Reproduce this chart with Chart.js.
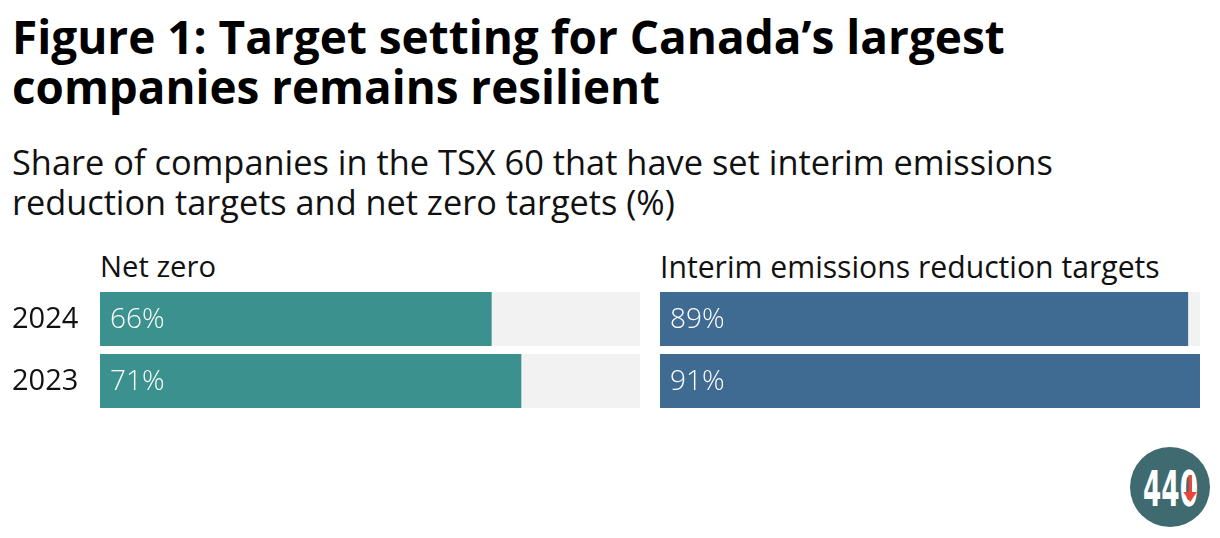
<!DOCTYPE html>
<html>
<head>
<meta charset="utf-8">
<script src="https://cdn.jsdelivr.net/npm/chart.js"></script>
<style>
  html, body { margin: 0; padding: 0; background: #fff; }
  body { width: 1220px; height: 538px; position: relative; overflow: hidden; font-family: "Open Sans", "Noto Sans", sans-serif; color: #111; }
  .fit { position: absolute; left: 12px; white-space: nowrap; margin: 0; }
  #title1, #title2 { font-weight: 700; font-size: 42px; line-height: 1; color: #000; }
  #sub1, #sub2 { font-weight: 400; font-size: 29px; line-height: 1; }
  .head { position: absolute; white-space: nowrap; font-size: 24px; line-height: 1; }
  canvas { position: absolute; }
  #logo { position: absolute; left: 1130px; top: 447px; }
</style>
</head>
<body>
<div class="fit" id="title1" data-w="993" style="top:14px">Figure 1: Target setting for Canada’s largest</div>
<div class="fit" id="title2" data-w="648" style="top:64px">companies remains resilient</div>
<div class="fit" id="sub1" data-w="1041" style="top:145px">Share of companies in the TSX 60 that have set interim emissions</div>
<div class="fit" id="sub2" data-w="663" style="top:185px">reduction targets and net zero targets (%)</div>
<div class="head" id="head1" data-w="116" style="left:100px; top:252px">Net zero</div>
<div class="head" id="head2" data-w="500" style="left:660px; top:252px">Interim emissions reduction targets</div>

<canvas id="leftChart" width="640" height="124" style="left:0; top:288px"></canvas>
<canvas id="rightChart" width="540" height="124" style="left:660px; top:288px"></canvas>

<svg id="logo" width="80" height="80" viewBox="0 0 80 80">
  <circle cx="40" cy="40" r="40" fill="#3e6a70"/>
  <text x="13" y="59" fill="#fff" font-family="Liberation Sans Narrow, DejaVu Sans Condensed, sans-serif" font-weight="700" font-size="50" textLength="55" lengthAdjust="spacingAndGlyphs">440</text>
  <rect x="58.5" y="28" width="3.4" height="22" fill="#e8453c"/>
  <polygon points="53.3,45 66.8,45 60.2,55" fill="#e8453c"/>
</svg>

<script>
'use strict';

// --- Data ---
const years = ['2024', '2023'];
const netZero = [66, 71];
const interimTargets = [89, 91];
const axisMax = 91;

// --- Colours ---
const netZeroColor = '#3b918d';
const interimColor = '#3f6a91';
const trackColor = '#f2f2f2';

// stretch text lines to the widths seen in the reference
function fitText() {
    document.querySelectorAll('[data-w]').forEach(el => {
        const target = parseFloat(el.dataset.w);
        const size = parseFloat(getComputedStyle(el).fontSize);
        const w = el.getBoundingClientRect().width;
        if (w > 0) el.style.fontSize = (size * target / w).toFixed(2) + 'px';
    });
}

// value labels inside the bars + year labels on the left panel
const barLabels = {
    id: 'barLabels',
    afterDatasetsDraw(chart, args, opts) {
        const ctx = chart.ctx;
        const meta = chart.getDatasetMeta(0);
        const values = chart.data.datasets[0].data;
        ctx.save();
        ctx.textAlign = 'left';
        ctx.textBaseline = 'middle';
        meta.data.forEach((bar, i) => {
            ctx.font = '300 28px "Open Sans", sans-serif';
            ctx.fillStyle = '#ffffff';
            ctx.fillText(values[i] + '%', bar.base + 10, bar.y + 1);
            if (opts.showYears) {
                // year sits at the left edge of the canvas, on the bar's centre line
                const y = chart.scales.y.getPixelForValue(i);
                ctx.font = '400 29px "Open Sans", sans-serif';
                ctx.fillStyle = '#111111';
                ctx.fillText(chart.data.labels[i], 12, y + 1);
            }
        });
        ctx.restore();
    }
};

function makeChart(canvasId, values, color, showYears) {
    const ctx = document.getElementById(canvasId).getContext('2d');
    return new Chart(ctx, {
        type: 'bar',
        data: {
            labels: years,
            datasets: [
                {
                    data: values,
                    backgroundColor: color,
                    order: 1,
                    grouped: false,
                    categoryPercentage: 1,
                    barPercentage: 54 / 62
                },
                {
                    data: years.map(() => axisMax),
                    backgroundColor: trackColor,
                    order: 2,
                    grouped: false,
                    categoryPercentage: 1,
                    barPercentage: 54 / 62
                }
            ]
        },
        options: {
            indexAxis: 'y',
            responsive: false,
            animation: false,
            devicePixelRatio: 1,
            layout: { padding: { left: showYears ? 100 : 0, right: 0, top: 0, bottom: 0 } },
            plugins: {
                legend: { display: false },
                tooltip: { enabled: false },
                barLabels: { showYears: showYears }
            },
            scales: {
                x: { display: false, min: 0, max: axisMax },
                y: { display: false }
            }
        },
        plugins: [barLabels]
    });
}

fitText();
makeChart('leftChart', netZero, netZeroColor, true);
makeChart('rightChart', interimTargets, interimColor, false);
</script>
</body>
</html>
